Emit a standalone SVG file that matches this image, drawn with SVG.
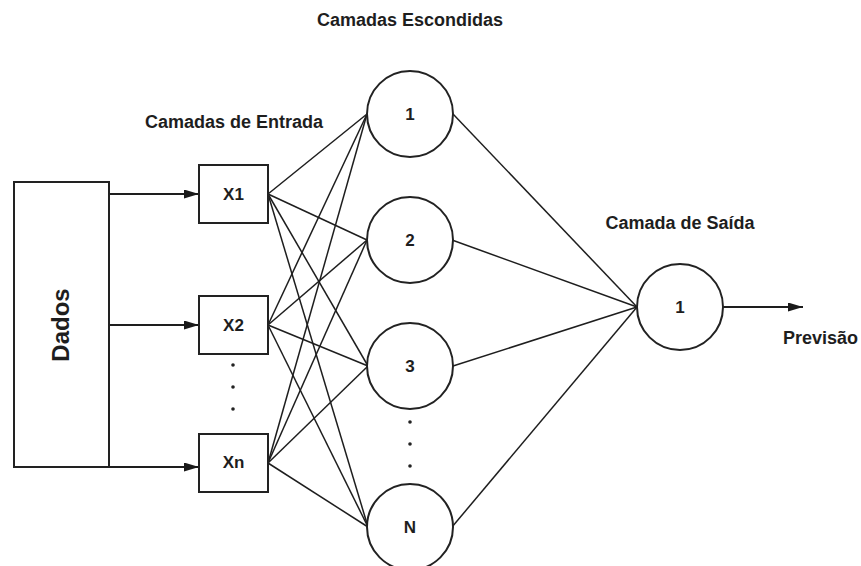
<svg xmlns="http://www.w3.org/2000/svg" width="861" height="566" viewBox="0 0 861 566">
<defs>
<marker id="arr" viewBox="0 0 10 10" refX="10" refY="5" markerWidth="15" markerHeight="9" markerUnits="userSpaceOnUse" orient="auto" preserveAspectRatio="none">
<path d="M0,0 L10,5 L0,10 z" fill="#1a1a1a"/>
</marker>
<style>
.t{font-family:"Liberation Sans",Arial,sans-serif;font-weight:bold;fill:#1e1e1e;text-anchor:middle;dominant-baseline:central}
.s{fill:#fff;stroke:#222;stroke-width:2}
.c line{stroke:#1e1e1e;stroke-width:1.5}
.a{stroke:#1e1e1e;stroke-width:1.8;fill:none}
.d{fill:#222}
</style>
</defs>
<rect width="861" height="566" fill="#fff"/>
<text class="t" x="410" y="20" font-size="18">Camadas Escondidas</text>
<text class="t" x="234" y="122" font-size="18">Camadas de Entrada</text>
<text class="t" x="680" y="223" font-size="18">Camada de Saída</text>
<text class="t" x="783" y="338" font-size="18" style="text-anchor:start">Previsão</text>
<g class="c" id="connectors">
<line x1="268" y1="194" x2="367" y2="114"/>
<line x1="268" y1="194" x2="367" y2="240"/>
<line x1="268" y1="194" x2="368" y2="366"/>
<line x1="268" y1="194" x2="368" y2="527"/>
<line x1="268" y1="325" x2="367" y2="114"/>
<line x1="268" y1="325" x2="367" y2="240"/>
<line x1="268" y1="325" x2="368" y2="366"/>
<line x1="268" y1="325" x2="368" y2="527"/>
<line x1="268" y1="463" x2="367" y2="114"/>
<line x1="268" y1="463" x2="367" y2="240"/>
<line x1="268" y1="463" x2="368" y2="366"/>
<line x1="268" y1="463" x2="368" y2="527"/>
<line x1="453" y1="114" x2="637" y2="307"/>
<line x1="452" y1="240" x2="637" y2="307"/>
<line x1="453" y1="366" x2="637" y2="307"/>
<line x1="452" y1="527" x2="637" y2="307"/>
<path class="a" d="M109,194 H199" marker-end="url(#arr)"/>
<path class="a" d="M109,325 H199" marker-end="url(#arr)"/>
<path class="a" d="M109,467 H199" marker-end="url(#arr)"/>
<path class="a" d="M722,307 H803" marker-end="url(#arr)"/>
</g>
<g id="dados">
<rect class="s" x="14" y="182" width="95" height="285"/>
<text class="t" x="0" y="0" font-size="24" transform="translate(60,325) rotate(-90)">Dados</text>
</g>
<g id="x1"><rect class="s" x="199" y="165" width="69" height="58"/><text class="t" x="233.5" y="194" font-size="17">X1</text></g>
<g id="x2"><rect class="s" x="199" y="296" width="69" height="58"/><text class="t" x="233.5" y="325" font-size="17">X2</text></g>
<g id="xn"><rect class="s" x="199" y="434" width="69" height="58"/><text class="t" x="233.5" y="462" font-size="17">Xn</text></g>
<g id="dots-in"><circle class="d" cx="233" cy="365" r="1.8"/><circle class="d" cx="233" cy="387" r="1.8"/><circle class="d" cx="233" cy="409" r="1.8"/></g>
<g id="h1"><circle class="s" cx="410" cy="114" r="43"/><text class="t" x="410" y="114" font-size="17">1</text></g>
<g id="h2"><circle class="s" cx="410" cy="240" r="43"/><text class="t" x="410" y="240" font-size="17">2</text></g>
<g id="h3"><circle class="s" cx="410" cy="366" r="43"/><text class="t" x="410" y="366" font-size="17">3</text></g>
<g id="hn"><circle class="s" cx="410" cy="527" r="43"/><text class="t" x="410" y="527" font-size="17">N</text></g>
<g id="dots-hidden"><circle class="d" cx="410" cy="422" r="1.8"/><circle class="d" cx="410" cy="444" r="1.8"/><circle class="d" cx="410" cy="466" r="1.8"/></g>
<g id="out"><circle class="s" cx="680" cy="307" r="43"/><text class="t" x="680" y="307" font-size="17">1</text></g>
</svg>
